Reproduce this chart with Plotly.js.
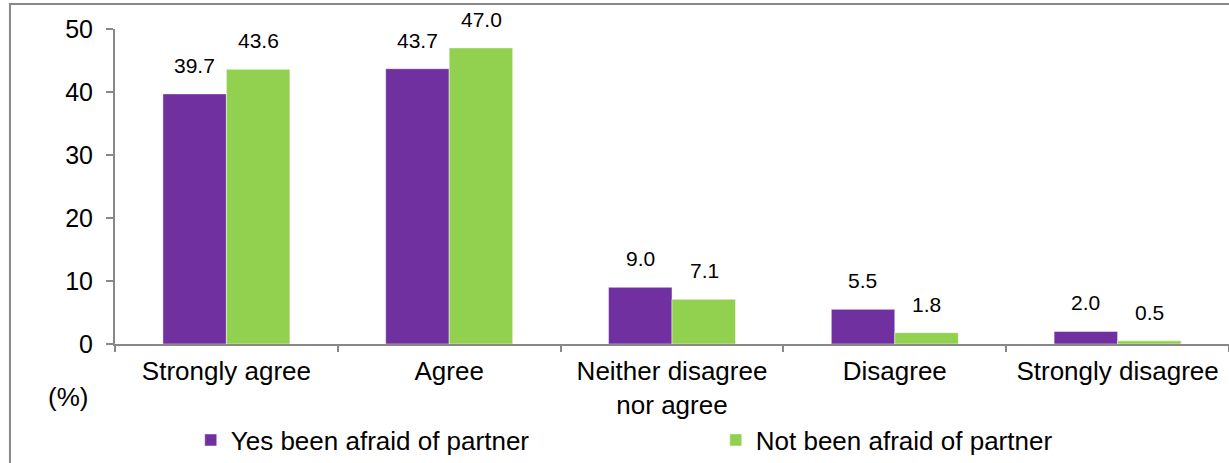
<!DOCTYPE html>
<html>
<head>
<meta charset="utf-8">
<script src="https://cdn.plot.ly/plotly-3.0.1.min.js"></script>
<style>html,body{margin:0;padding:0;background:#fff;}#chart{width:1229px;height:463px;}</style>
</head>
<body>
<div id="chart"></div>
<script>
const categories = ["Strongly agree", "Agree", "Neither disagree<br>nor agree", "Disagree", "Strongly disagree"];
const seriesNames = ["Yes been afraid of partner", "Not been afraid of partner"];
const yesAfraid = [39.7, 43.7, 9.0, 5.5, 2.0];
const notAfraid = [43.6, 47.0, 7.1, 1.8, 0.5];
const yTicks = [0, 10, 20, 30, 40, 50];

const colors = ["#7030A0", "#92D050"];
const font = "Liberation Sans, Arial, sans-serif";

const traces = [yesAfraid, notAfraid].map((vals, i) => ({
  type: "bar",
  name: seriesNames[i],
  x: categories,
  y: vals,
  marker: {color: colors[i], line: {color: "rgba(255,255,255,0.6)", width: 0.8}},
  hoverinfo: "skip"
}));

const annotations = [];
[yesAfraid, notAfraid].forEach((vals, i) => {
  vals.forEach((v, j) => {
    annotations.push({
      x: categories[j], y: v, xref: "x", yref: "y",
      text: v.toFixed(1), showarrow: false,
      xshift: i === 0 ? -32 : 32, yshift: 15, yanchor: "bottom",
      font: {family: font, size: 21, color: "#000"}
    });
  });
});
annotations.push({
  xref: "paper", yref: "paper", x: -0.042, y: -0.168,
  text: "(%)", showarrow: false, xanchor: "center", yanchor: "middle",
  font: {family: font, size: 26, color: "#000"}
});

const layout = {
  width: 1229, height: 463,
  margin: {l: 115, r: 0, t: 29, b: 119, autoexpand: false},
  paper_bgcolor: "#fff", plot_bgcolor: "#fff",
  font: {family: font, size: 26, color: "#000"},
  barmode: "group",
  bargap: 0.43,
  bargroupgap: 0,
  showlegend: true,
  legend: {
    orientation: "h", x: 0.068, xanchor: "left", y: -0.305, yanchor: "middle",
    entrywidth: 480, entrywidthmode: "pixels", itemwidth: 30,
    bgcolor: "rgba(0,0,0,0)",
    font: {family: font, size: 26, color: "#000"},
    itemclick: false, itemdoubleclick: false
  },
  xaxis: {
    type: "category",
    showline: true, linecolor: "#888", linewidth: 2,
    ticks: "outside", tickson: "boundaries", ticklen: 6, tickcolor: "#888", tickwidth: 2,
    showgrid: false, zeroline: false,
    tickfont: {family: font, size: 26, color: "#000"},
    ticklabelstandoff: 3
  },
  yaxis: {
    range: [0, 50], tickvals: yTicks, ticktext: yTicks.map(String),
    showline: true, linecolor: "#888", linewidth: 2,
    ticks: "outside", ticklen: 7, tickcolor: "#888", tickwidth: 2,
    showgrid: false, zeroline: false,
    tickfont: {family: font, size: 25, color: "#000"},
    ticklabelstandoff: 8
  },
  annotations: annotations,
  shapes: [{
    type: "rect", xref: "paper", yref: "paper",
    x0: -0.0943, x1: 1.2, y0: -0.6, y1: 1.079,
    line: {color: "#888", width: 2}, fillcolor: "rgba(0,0,0,0)", layer: "below"
  }]
};

Plotly.newPlot("chart", traces, layout, {displayModeBar: false, staticPlot: true});
</script>
</body>
</html>
